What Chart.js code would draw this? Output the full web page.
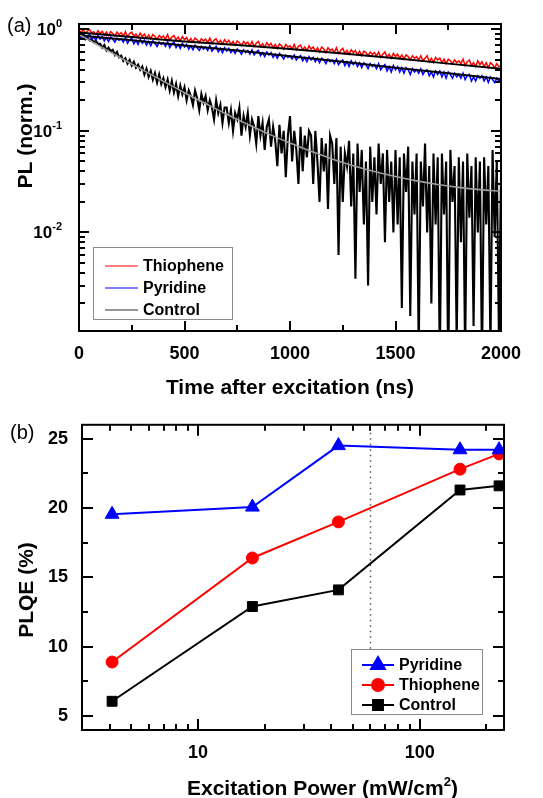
<!DOCTYPE html>
<html>
<head>
<meta charset="utf-8">
<script src="https://cdn.jsdelivr.net/npm/chart.js@4.4.1/dist/chart.umd.min.js"></script>
<style>
  html, body { margin: 0; padding: 0; background: #fff; }
  #wrap { position: relative; width: 543px; height: 798px; }
  canvas { position: absolute; left: 0; }
  #decayChart { top: 0; }
  #plqeChart { top: 400px; }
</style>
</head>
<body>
<div id="wrap">
  <canvas id="decayChart" width="543" height="400"></canvas>
  <canvas id="plqeChart" width="543" height="398"></canvas>
</div>
<script>
const FONT = 'Arial, "Liberation Sans", sans-serif';

// ---------- (a) PL decay ----------
const rawStep = 10;   // ns between samples of the raw traces
const thioRise = 0.1;
const pyriRise = 0.06;

const thioRaw = [
  0.98, 0.93, 1.00, 0.91, 0.96, 1.00, 0.92, 0.95, 0.89, 0.97,
  0.91, 0.96, 0.88, 0.94, 0.87, 0.95, 0.91, 0.86, 0.94, 0.89,
  0.93, 0.86, 0.95, 0.84, 0.91, 0.94, 0.85, 0.90, 0.83, 0.92,
  0.85, 0.90, 0.82, 0.88, 0.81, 0.89, 0.85, 0.80, 0.87, 0.83,
  0.86, 0.80, 0.89, 0.78, 0.84, 0.87, 0.79, 0.84, 0.77, 0.85,
  0.79, 0.83, 0.76, 0.81, 0.75, 0.82, 0.79, 0.74, 0.81, 0.77,
  0.80, 0.74, 0.82, 0.73, 0.78, 0.81, 0.73, 0.78, 0.72, 0.79,
  0.74, 0.78, 0.71, 0.76, 0.70, 0.77, 0.74, 0.69, 0.76, 0.72,
  0.75, 0.69, 0.76, 0.68, 0.73, 0.76, 0.68, 0.72, 0.67, 0.74,
  0.69, 0.73, 0.66, 0.71, 0.65, 0.72, 0.69, 0.64, 0.71, 0.67,
  0.69, 0.64, 0.71, 0.63, 0.68, 0.70, 0.63, 0.67, 0.62, 0.69,
  0.64, 0.67, 0.61, 0.66, 0.60, 0.67, 0.64, 0.59, 0.66, 0.62,
  0.64, 0.59, 0.66, 0.58, 0.62, 0.65, 0.58, 0.62, 0.57, 0.63,
  0.59, 0.62, 0.56, 0.61, 0.55, 0.61, 0.59, 0.55, 0.60, 0.57,
  0.59, 0.55, 0.60, 0.53, 0.57, 0.60, 0.53, 0.57, 0.52, 0.58,
  0.54, 0.57, 0.52, 0.56, 0.51, 0.56, 0.54, 0.50, 0.55, 0.52,
  0.54, 0.50, 0.55, 0.49, 0.52, 0.55, 0.48, 0.52, 0.47, 0.53,
  0.50, 0.52, 0.47, 0.51, 0.46, 0.51, 0.49, 0.46, 0.50, 0.47,
  0.49, 0.46, 0.51, 0.44, 0.48, 0.50, 0.44, 0.47, 0.43, 0.49,
  0.45, 0.48, 0.43, 0.47, 0.42, 0.47, 0.45, 0.42, 0.46, 0.43,
  0.44
];
const pyriRaw = [
  0.88, 0.82, 0.90, 0.80, 0.86, 0.89, 0.79, 0.85, 0.78, 0.87,
  0.80, 0.85, 0.77, 0.83, 0.76, 0.84, 0.80, 0.75, 0.82, 0.78,
  0.81, 0.75, 0.83, 0.73, 0.79, 0.82, 0.72, 0.78, 0.71, 0.80,
  0.73, 0.78, 0.70, 0.76, 0.69, 0.77, 0.73, 0.68, 0.75, 0.71,
  0.74, 0.68, 0.76, 0.66, 0.72, 0.75, 0.66, 0.71, 0.65, 0.73,
  0.67, 0.71, 0.64, 0.69, 0.63, 0.70, 0.66, 0.62, 0.68, 0.64,
  0.67, 0.62, 0.69, 0.61, 0.65, 0.68, 0.60, 0.65, 0.59, 0.66,
  0.61, 0.65, 0.59, 0.63, 0.58, 0.64, 0.61, 0.57, 0.63, 0.59,
  0.62, 0.57, 0.63, 0.56, 0.60, 0.62, 0.55, 0.59, 0.54, 0.60,
  0.56, 0.59, 0.53, 0.57, 0.52, 0.58, 0.55, 0.51, 0.56, 0.53,
  0.55, 0.51, 0.56, 0.50, 0.53, 0.55, 0.49, 0.53, 0.48, 0.54,
  0.50, 0.53, 0.48, 0.52, 0.47, 0.52, 0.50, 0.46, 0.51, 0.48,
  0.50, 0.46, 0.51, 0.45, 0.48, 0.50, 0.44, 0.48, 0.43, 0.49,
  0.45, 0.48, 0.43, 0.47, 0.42, 0.47, 0.45, 0.41, 0.46, 0.43,
  0.45, 0.41, 0.46, 0.40, 0.43, 0.45, 0.39, 0.43, 0.38, 0.44,
  0.40, 0.43, 0.38, 0.42, 0.37, 0.42, 0.40, 0.36, 0.41, 0.38,
  0.40, 0.37, 0.41, 0.36, 0.39, 0.40, 0.35, 0.38, 0.34, 0.39,
  0.36, 0.39, 0.34, 0.38, 0.33, 0.38, 0.36, 0.33, 0.37, 0.34,
  0.36, 0.33, 0.37, 0.32, 0.35, 0.36, 0.31, 0.34, 0.31, 0.35,
  0.33, 0.35, 0.31, 0.34, 0.30, 0.34, 0.32, 0.30, 0.33, 0.31,
  0.32
];
const ctrlRaw = [
  0.87, 0.84, 0.85, 0.80, 0.83, 0.78, 0.80, 0.75, 0.77, 0.72,
  0.72, 0.66, 0.70, 0.62, 0.66, 0.61, 0.63, 0.56, 0.60, 0.53,
  0.55, 0.49, 0.52, 0.46, 0.50, 0.44, 0.48, 0.42, 0.45, 0.40,
  0.43, 0.36, 0.41, 0.34, 0.39, 0.32, 0.37, 0.30, 0.36, 0.29,
  0.33, 0.27, 0.32, 0.25, 0.31, 0.24, 0.29, 0.22, 0.28, 0.23,
  0.27, 0.20, 0.25, 0.22, 0.18, 0.25, 0.21, 0.16, 0.23, 0.19,
  0.22, 0.16, 0.20, 0.17, 0.13, 0.20, 0.15, 0.18, 0.12, 0.17,
  0.17, 0.12, 0.16, 0.10, 0.15, 0.13, 0.17, 0.09, 0.14, 0.11,
  0.15, 0.09, 0.13, 0.11, 0.075, 0.14, 0.09, 0.12, 0.065, 0.11,
  0.13, 0.07, 0.11, 0.08, 0.045, 0.115, 0.06, 0.10, 0.035, 0.09,
  0.14, 0.05, 0.10, 0.065, 0.03, 0.11, 0.04, 0.09, 0.055, 0.10,
  0.09, 0.03, 0.10, 0.05, 0.02, 0.085, 0.04, 0.075, 0.017, 0.09,
  0.075, 0.03, 0.085, 0.006, 0.07, 0.02, 0.06, 0.045, 0.08, 0.018,
  0.06, 0.0035, 0.075, 0.025, 0.065, 0.012, 0.05, 0.003, 0.07, 0.02,
  0.055, 0.015, 0.075, 0.03, 0.06, 0.008, 0.065, 0.02, 0.05, 0.01,
  0.065, 0.012, 0.055, 0.0018, 0.06, 0.025, 0.07, 0.0015, 0.05, 0.015,
  0.06, 0.0007, 0.05, 0.018, 0.075, 0.01, 0.045, 0.002, 0.06, 0.012,
  0.055, 0.0005, 0.06, 0.015, 0.05, 0.0004, 0.065, 0.02, 0.045, 0.0008,
  0.055, 0.008, 0.05, 0.0006, 0.06, 0.014, 0.045, 0.0012, 0.055, 0.01,
  0.05, 0.0005, 0.055, 0.012, 0.045, 0.0007, 0.065, 0.009, 0.05, 0.001,
  0.035
];

const fitTime = [0, 250, 500, 750, 1000, 1250, 1500, 1750, 2000];
const thioFit = [0.93, 0.84, 0.76, 0.70, 0.64, 0.58, 0.52, 0.46, 0.41];
const pyriFit = [0.87, 0.78, 0.695, 0.62, 0.545, 0.48, 0.42, 0.37, 0.325];
const ctrlFitTime = [0, 100, 200, 300, 400, 500, 600, 700, 800, 900, 1000,
  1100, 1200, 1300, 1400, 1500, 1600, 1700, 1800, 1900, 2000];
const ctrlFit = [0.89, 0.68, 0.52, 0.40, 0.308, 0.238, 0.186, 0.146, 0.116, 0.093, 0.076,
  0.063, 0.053, 0.0455, 0.0398, 0.0355, 0.0322, 0.0297, 0.0278, 0.0264, 0.0254];

const timeTicks = [0, 500, 1000, 1500, 2000];
const timeMinor = [250, 750, 1250, 1750];
const plTicks = [1, 0.1, 0.01];

// ---------- (b) PLQE ----------
const powerX = [4.1, 17.6, 43, 152, 228];
const pyriPLQE = [19.55, 20.07, 24.5, 24.2, 24.2];
const thioPLQE = [8.9, 16.4, 19.0, 22.8, 23.9];
const ctrlPLQE = [6.07, 12.9, 14.1, 21.3, 21.6];
const dotPower = 60;
const powerTicks = [10, 100];
const plqeTicks = [5, 10, 15, 20, 25];
const plqeMinor = [7.5, 12.5, 17.5, 22.5];

const logMinor = (decades) => {
  const out = [];
  decades.forEach(d => { for (let k = 2; k <= 9; k++) out.push(k * d); });
  return out;
};

const sampled = (vals, step) => vals.map((v, i) => ({ x: i * step, y: v }));
const paired = (xs, ys) => xs.map((x, i) => ({ x, y: ys[i] }));

function drawFrame(chart, t) {
  const ctx = chart.ctx;
  const a = chart.chartArea;
  const xs = chart.scales.x, ys = chart.scales.y;
  ctx.save();
  ctx.setLineDash([]);
  ctx.globalAlpha = 1;
  ctx.strokeStyle = '#000';
  ctx.lineWidth = 2;
  const seg = (x0, y0, x1, y1) => {
    ctx.beginPath();
    ctx.moveTo(x0, y0);
    ctx.lineTo(x1, y1);
    ctx.stroke();
  };
  const xt = (vals, len) => vals.forEach(v => {
    const p = Math.round(xs.getPixelForValue(v));
    seg(p, a.bottom, p, a.bottom - len);
    seg(p, a.top, p, a.top + len);
  });
  const yt = (vals, len) => vals.forEach(v => {
    const p = Math.round(ys.getPixelForValue(v));
    seg(a.left, p, a.left + len, p);
    seg(a.right, p, a.right - len, p);
  });
  xt(t.xMajor, t.major);
  xt(t.xMinor, t.minor);
  yt(t.yMajor, t.major);
  yt(t.yMinor, t.minor);
  ctx.strokeRect(a.left, a.top, a.right - a.left, a.bottom - a.top);
  ctx.restore();
}

function drawBoxLegend(ctx, box, rows, marker) {
  ctx.save();
  ctx.fillStyle = '#fff';
  ctx.fillRect(box.x, box.y, box.w, box.h);
  ctx.strokeStyle = '#8a8a8a';
  ctx.lineWidth = 1;
  ctx.strokeRect(box.x + 0.5, box.y + 0.5, box.w, box.h);
  ctx.font = 'bold 16px ' + FONT;
  ctx.textBaseline = 'middle';
  rows.forEach((r, i) => {
    const ry = box.rowY[i];
    ctx.strokeStyle = r.color;
    ctx.lineWidth = r.width;
    ctx.beginPath();
    ctx.moveTo(box.lineX0, ry); ctx.lineTo(box.lineX1, ry);
    ctx.stroke();
    if (marker) {
      ctx.fillStyle = r.color;
      Chart.helpers.drawPoint(ctx, { pointStyle: r.style, radius: r.radius, borderWidth: 1, rotation: 0 },
        (box.lineX0 + box.lineX1) / 2, ry);
    }
    ctx.fillStyle = '#000';
    ctx.fillText(r.label, box.textX, ry + 1);
  });
  ctx.restore();
}

function rotatedTitle(ctx, text, cx, cy, size) {
  ctx.save();
  ctx.translate(cx, cy);
  ctx.rotate(-Math.PI / 2);
  ctx.font = 'bold ' + size + 'px ' + FONT;
  ctx.textAlign = 'center';
  ctx.textBaseline = 'middle';
  ctx.fillStyle = '#000';
  ctx.fillText(text, 0, 0);
  ctx.restore();
}

const decayDecor = {
  id: 'decayDecor',
  afterDraw(chart) {
    const { ctx, chartArea: a, scales: { y } } = chart;
    drawFrame(chart, { xMajor: timeTicks, xMinor: timeMinor, yMajor: plTicks,
      yMinor: logMinor([0.001, 0.01, 0.1]), major: 10, minor: 6 });
    ctx.save();
    ctx.fillStyle = '#000';
    // 10^n labels
    const right = a.left - 17;
    plTicks.forEach(v => {
      const py = y.getPixelForValue(v);
      const e = String(Math.round(Math.log10(v)));
      ctx.font = 'bold 11px ' + FONT;
      const ew = ctx.measureText(e).width;
      ctx.textAlign = 'right';
      ctx.textBaseline = 'alphabetic';
      ctx.fillText(e, right, py - 2);
      ctx.font = 'bold 17px ' + FONT;
      ctx.fillText('10', right - ew, py + 6);
    });
    ctx.font = '20px ' + FONT;
    ctx.textAlign = 'left';
    ctx.textBaseline = 'middle';
    ctx.fillText('(a)', 7, 26);
    ctx.font = 'bold 21px ' + FONT;
    ctx.textAlign = 'center';
    ctx.fillText('Time after excitation (ns)', 290, 388);
    ctx.restore();
    rotatedTitle(ctx, 'PL (norm.)', 26, 136, 21);
    drawBoxLegend(ctx, { x: 93, y: 247, w: 139, h: 72, lineX0: 105, lineX1: 138, textX: 143, rowY: [266, 288, 310] }, [
      { label: 'Thiophene', color: '#ff0000', width: 1.2 },
      { label: 'Pyridine', color: '#0000ff', width: 1.2 },
      { label: 'Control', color: '#333', width: 1.2 }
    ], false);
  }
};

const plqeDecor = {
  id: 'plqeDecor',
  beforeDatasetsDraw(chart) {
    const { ctx, chartArea: a, scales: { x } } = chart;
    ctx.save();
    ctx.strokeStyle = '#555';
    ctx.lineWidth = 1.5;
    ctx.setLineDash([1.5, 4]);
    const px = Math.round(x.getPixelForValue(dotPower)) + 0.5;
    ctx.beginPath();
    ctx.moveTo(px, a.top + 8);
    ctx.lineTo(px, 249);
    ctx.stroke();
    ctx.restore();
  },
  afterDraw(chart) {
    const { ctx } = chart;
    drawFrame(chart, { xMajor: powerTicks, xMinor: logMinor([1, 10, 100]).filter(v => v > 3 && v < 240),
      yMajor: plqeTicks, yMinor: plqeMinor, major: 11, minor: 6 });
    ctx.save();
    ctx.fillStyle = '#000';
    ctx.font = '20px ' + FONT;
    ctx.textBaseline = 'middle';
    ctx.fillText('(b)', 10, 33);
    // x title with superscript
    ctx.textBaseline = 'alphabetic';
    let tx = 187;
    const base = 395;
    ctx.font = 'bold 21px ' + FONT;
    const t1 = 'Excitation Power (mW/cm';
    ctx.fillText(t1, tx, base);
    tx += ctx.measureText(t1).width;
    ctx.font = 'bold 13px ' + FONT;
    ctx.fillText('2', tx, base - 9);
    tx += ctx.measureText('2').width;
    ctx.font = 'bold 21px ' + FONT;
    ctx.fillText(')', tx, base);
    ctx.restore();
    rotatedTitle(ctx, 'PLQE (%)', 27, 190, 21);
    drawBoxLegend(ctx, { x: 351, y: 249, w: 131, h: 65, lineX0: 362, lineX1: 394, textX: 399, rowY: [265, 285, 305] }, [
      { label: 'Pyridine', color: '#0000ff', width: 2, style: 'triangle', radius: 8 },
      { label: 'Thiophene', color: '#ff0000', width: 2, style: 'circle', radius: 6 },
      { label: 'Control', color: '#000', width: 2, style: 'rect', radius: 7 }
    ], true);
  }
};

const lineBase = { pointRadius: 0, fill: false, tension: 0 };
const tickFont = { family: FONT, size: 18, weight: 'bold' };
const atStart = (p, i) => (i ? p : { x: 1, y: p.y });

new Chart(document.getElementById('decayChart'), {
  type: 'line',
  data: {
    datasets: [
      { ...lineBase, data: paired(ctrlFitTime, ctrlFit), borderColor: '#9c9c9c', borderWidth: 1.6, cubicInterpolationMode: 'monotone' },
      { ...lineBase, data: paired(fitTime, thioFit), borderColor: '#000', borderWidth: 2 },
      { ...lineBase, data: paired(fitTime, pyriFit), borderColor: '#000', borderWidth: 2 },
      { ...lineBase, data: [{ x: 1, y: thioRise }, ...sampled(thioRaw, rawStep).map(atStart)], borderColor: '#ff0000', borderWidth: 1.5 },
      { ...lineBase, data: [{ x: 1, y: pyriRise }, ...sampled(pyriRaw, rawStep).map(atStart)], borderColor: '#0000ff', borderWidth: 1.5 },
      { ...lineBase, data: sampled(ctrlRaw, rawStep), borderColor: '#000', borderWidth: 2.1 }
    ]
  },
  options: {
    responsive: false,
    animation: false,
    events: [],
    layout: { padding: { top: 24, right: 42, left: 0, bottom: 0 } },
    plugins: { legend: { display: false }, tooltip: { enabled: false } },
    scales: {
      x: {
        type: 'linear', min: 0, max: 2000,
        afterBuildTicks: s => { s.ticks = timeTicks.map(v => ({ value: v })); },
        afterFit: s => { s.height = 69; },
        grid: { display: false, drawTicks: false },
        border: { display: false },
        ticks: { font: tickFont, color: '#000', padding: 12, maxRotation: 0, autoSkip: false,
          callback: v => String(v) }
      },
      y: {
        type: 'logarithmic', min: 0.00107, max: 1.13,
        afterFit: s => { s.width = 79; },
        grid: { display: false, drawTicks: false },
        border: { display: false },
        ticks: { display: false }
      }
    }
  },
  plugins: [decayDecor]
});

new Chart(document.getElementById('plqeChart'), {
  type: 'line',
  data: {
    datasets: [
      { data: paired(powerX, pyriPLQE), borderColor: '#0000ff', backgroundColor: '#0000ff', borderWidth: 2,
        pointStyle: 'triangle', pointRadius: 8, pointBorderWidth: 1, tension: 0 },
      { data: paired(powerX, thioPLQE), borderColor: '#ff0000', backgroundColor: '#ff0000', borderWidth: 2,
        pointStyle: 'circle', pointRadius: 6, pointBorderWidth: 1, tension: 0 },
      { data: paired(powerX, ctrlPLQE), borderColor: '#000', backgroundColor: '#000', borderWidth: 2,
        pointStyle: 'rect', pointRadius: 7, pointBorderWidth: 1, tension: 0 }
    ]
  },
  options: {
    responsive: false,
    animation: false,
    events: [],
    layout: { padding: { top: 23, right: 39, left: 0, bottom: 0 } },
    plugins: { legend: { display: false }, tooltip: { enabled: false } },
    scales: {
      x: {
        type: 'logarithmic', min: 3, max: 240,
        afterBuildTicks: s => { s.ticks = powerTicks.map(v => ({ value: v })); },
        afterFit: s => { s.height = 68; },
        grid: { display: false, drawTicks: false },
        border: { display: false },
        ticks: { font: tickFont, color: '#000', padding: 12, maxRotation: 0, autoSkip: false,
          callback: v => String(v) }
      },
      y: {
        type: 'linear', min: 4, max: 26,
        afterBuildTicks: s => { s.ticks = plqeTicks.map(v => ({ value: v })); },
        afterFit: s => { s.width = 82; },
        grid: { display: false, drawTicks: false },
        border: { display: false },
        ticks: { font: tickFont, color: '#000', padding: 14 }
      }
    }
  },
  plugins: [plqeDecor]
});
</script>
</body>
</html>
